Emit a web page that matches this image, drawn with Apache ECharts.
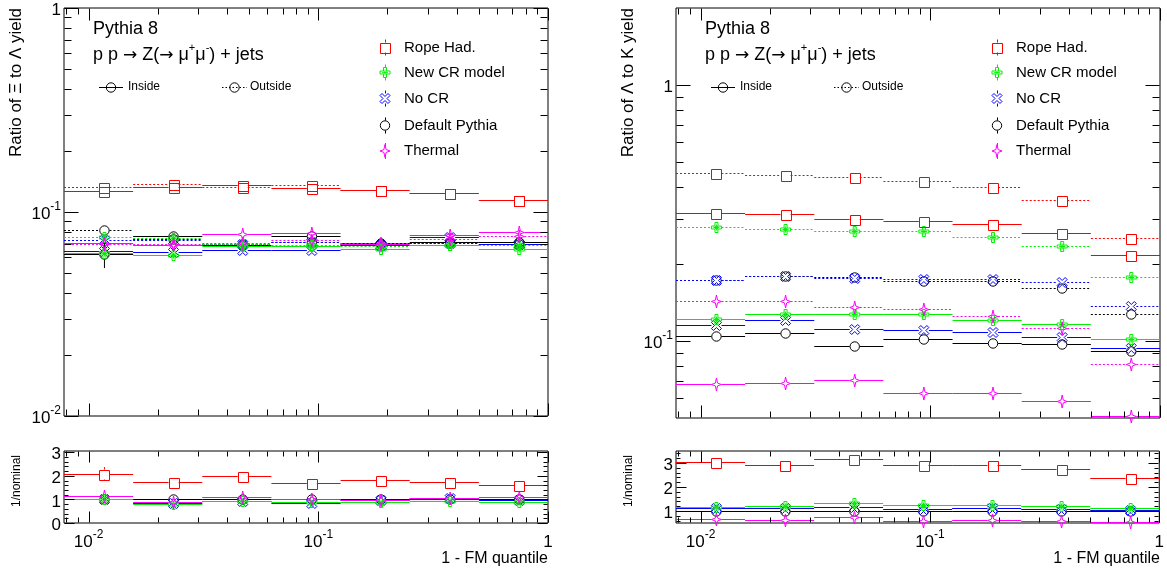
<!DOCTYPE html>
<html><head><meta charset="utf-8">
<script src="https://cdn.jsdelivr.net/npm/echarts@6/dist/echarts.min.js"></script>
<style>html,body{margin:0;padding:0;background:#fff}#c{width:1167px;height:569px}</style>
</head><body><div id="c"></div>
<script>
// ---------- data ----------
const binEdges   = [0.0078125, 0.015625, 0.03125, 0.0625, 0.125, 0.25, 0.5, 1];
const binCenters = [0.01171875, 0.0234375, 0.046875, 0.09375, 0.1875, 0.375, 0.75];

// Xi / Lambda (left panel)
const xiRopeIn       = [0.127, 0.133, 0.135, 0.131, 0.128, 0.124, 0.115];
const xiRopeOut      = [0.132, 0.137, 0.133, 0.136, 0.128, 0.124, 0.115];
const xiNewCRIn      = [0.0630, 0.0615, 0.0680, 0.0684, 0.0660, 0.0690, 0.0660];
const xiNewCROut     = [0.0750, 0.0745, 0.0700, 0.0690, 0.0680, 0.0690, 0.0690];
const xiNoCRIn       = [0.0646, 0.0640, 0.0648, 0.0648, 0.0690, 0.0752, 0.0700];
const xiNoCROut      = [0.0730, 0.0730, 0.0700, 0.0711, 0.0690, 0.0706, 0.0698];
const xiDefaultIn    = [0.0621, 0.0762, 0.0690, 0.0762, 0.0705, 0.0715, 0.0711];
const xiDefaultInErr = [0.0090, 0.0010, 0.0010, 0.0010, 0.0010, 0.0010, 0.0010];
const xiDefaultOut   = [0.0815, 0.0735, 0.0698, 0.0714, 0.0700, 0.0706, 0.0700];
const xiThermalIn    = [0.0706, 0.0690, 0.0782, 0.0790, 0.0700, 0.0775, 0.0797];
const xiThermalOut   = [0.0695, 0.0700, 0.0705, 0.0730, 0.0705, 0.0740, 0.0760];

const xiRatioRope     = [2.09, 1.73, 1.97, 1.70, 1.83, 1.75, 1.63];
const xiRatioRopeErr  = [0.28, 0.10, 0.12, 0.10, 0.10, 0.10, 0.10];
const xiRatioNewCR    = [1.00, 0.80, 0.94, 0.87, 0.90, 0.94, 0.90];
const xiRatioNoCR     = [1.02, 0.84, 0.94, 0.84, 0.97, 1.05, 0.98];
const xiRatioDefault  = [1.00, 1.00, 1.00, 1.00, 1.00, 1.00, 1.00];
const xiRatioThermal  = [1.13, 0.90, 1.12, 1.03, 0.99, 1.08, 1.10];

// Lambda / K (right panel)
const lamRopeIn      = [0.315, 0.313, 0.299, 0.295, 0.286, 0.264, 0.217];
const lamRopeOut     = [0.454, 0.444, 0.436, 0.423, 0.398, 0.356, 0.253];
const lamNewCRIn     = [0.122, 0.128, 0.128, 0.128, 0.121, 0.116, 0.102];
const lamNewCROut    = [0.278, 0.275, 0.269, 0.269, 0.255, 0.236, 0.177];
const lamNoCRIn      = [0.115, 0.121, 0.111, 0.110, 0.108, 0.104, 0.094];
const lamNoCROut     = [0.173, 0.180, 0.176, 0.175, 0.175, 0.170, 0.137];
const lamDefaultIn   = [0.1045, 0.107, 0.0955, 0.102, 0.0985, 0.0973, 0.0914];
const lamDefaultOut  = [0.173, 0.179, 0.177, 0.172, 0.171, 0.161, 0.128];
const lamThermalIn   = [0.0681, 0.0683, 0.0703, 0.0628, 0.0628, 0.0582, 0.0509];
const lamThermalOut  = [0.143, 0.143, 0.136, 0.133, 0.125, 0.112, 0.081];

const lamRatioRope    = [3.03, 2.93, 3.15, 2.92, 2.92, 2.74, 2.39];
const lamRatioNewCR   = [1.18, 1.21, 1.35, 1.25, 1.24, 1.21, 1.11];
const lamRatioNoCR    = [1.11, 1.14, 1.15, 1.08, 1.11, 1.08, 1.03];
const lamRatioDefault = [1.00, 1.00, 1.00, 1.00, 1.00, 1.00, 1.00];
const lamRatioThermal = [0.65, 0.62, 0.74, 0.60, 0.62, 0.58, 0.54];

// tick values
const xMajorTicks = [0.01, 0.1, 1];
const xMinorTicks = [0.008, 0.009, 0.02, 0.03, 0.04, 0.05, 0.06, 0.07, 0.08, 0.09, 0.2, 0.3, 0.4, 0.5, 0.6, 0.7, 0.8, 0.9];
const yMajorXi = [0.01, 0.1, 1];
const yMinorXi = [0.02, 0.03, 0.04, 0.05, 0.06, 0.07, 0.08, 0.09, 0.2, 0.3, 0.4, 0.5, 0.6, 0.7, 0.8, 0.9];
const yMajorLam = [0.1, 1];
const yMinorLam = [0.06, 0.07, 0.08, 0.09, 0.2, 0.3, 0.4, 0.5, 0.6, 0.7, 0.8, 0.9];
const yMajorRatioXi = [0, 1, 2, 3];
const yMinorRatioXi = [0.2, 0.4, 0.6, 0.8, 1.2, 1.4, 1.6, 1.8, 2.2, 2.4, 2.6, 2.8];
const yMajorRatioLam = [1, 2, 3];
const yMinorRatioLam = [0.6, 0.8, 1.2, 1.4, 1.6, 1.8, 2.2, 2.4, 2.6, 2.8, 3.2, 3.4];

const legendNames = ['Rope Had.', 'New CR model', 'No CR', 'Default Pythia', 'Thermal'];

// ---------- style ----------
const FONT = "'Liberation Sans', Arial, Helvetica, sans-serif";
const C = { rope: '#ff0000', newcr: '#00f000', nocr: '#0000ff', def: '#000000', thermal: '#ff00ff' };
const legendColors = [C.rope, C.newcr, C.nocr, C.def, C.thermal];
const legendMarkers = ['square', 'crossStar', 'crossX', 'circle', 'star4'];

// marker outlines in a 10x10 unit box
const SHAPES = {
  crossStar: { poly: [[3.5,0],[6.5,0],[6.5,3.5],[10,3.5],[10,6.5],[6.5,6.5],[6.5,10],[3.5,10],[3.5,6.5],[0,6.5],[0,3.5],[3.5,3.5]],
               lines: [[3.5,3.5,6.5,6.5],[6.5,3.5,3.5,6.5],[5,2,5,8],[2,5,8,5]] },
  crossX: { poly: [[2,0],[5,3],[8,0],[10,2],[7,5],[10,8],[8,10],[5,7],[2,10],[0,8],[3,5],[0,2]], lines: [] },
  star4: { poly: [[5,0],[6.1,3.9],[10,5],[6.1,6.1],[5,10],[3.9,6.1],[0,5],[3.9,3.9]], lines: [] }
};
function markerGeom(kind, cx, cy) {
  const w = 10, h = kind === 'star4' ? 13 : 10;
  const sh = SHAPES[kind];
  const tp = (px, py) => [cx - w / 2 + px * w / 10, cy - h / 2 + py * h / 10];
  return { poly: sh.poly.map(p => tp(p[0], p[1])), lines: sh.lines.map(l => tp(l[0], l[1]).concat(tp(l[2], l[3]))) };
}
function fmt(n) { return (Math.round(n * 100) / 100).toString(); }
function markerPathData(kind, cx, cy) {
  const g = markerGeom(kind, cx, cy);
  let d = 'M' + g.poly.map(p => fmt(p[0]) + ' ' + fmt(p[1])).join(' L') + ' Z';
  g.lines.forEach(l => { d += ' M' + fmt(l[0]) + ' ' + fmt(l[1]) + ' L' + fmt(l[2]) + ' ' + fmt(l[3]); });
  return d;
}
function markerSingle(kind, cx, cy, color) {
  const st = { fill: 'none', stroke: color, lineWidth: 1 };
  if (kind === 'circle') return { type: 'circle', shape: { cx: cx, cy: cy, r: 4.7 }, style: st };
  if (kind === 'square') return { type: 'rect', shape: { x: Math.round(cx - 5) + 0.5, y: Math.round(cy - 5) + 0.5, width: 10, height: 10 }, style: st };
  return { type: 'path', shape: { pathData: markerPathData(kind, cx, cy) }, style: st };
}
function markerGraphic(kind, cx, cy, color) {
  const st = () => ({ fill: 'none', stroke: color, lineWidth: 1 });
  if (kind === 'circle') return [{ type: 'circle', shape: { cx: cx, cy: cy, r: 4.7 }, style: st() }];
  if (kind === 'square') return [{ type: 'rect', shape: { x: Math.round(cx - 5) + 0.5, y: Math.round(cy - 5) + 0.5, width: 10, height: 10 }, style: st() }];
  const g = markerGeom(kind, cx, cy);
  const out = [{ type: 'polygon', shape: { points: g.poly }, style: st() }];
  g.lines.forEach(l => out.push({ type: 'line', shape: { x1: l[0], y1: l[1], x2: l[2], y2: l[3] }, style: { stroke: color, lineWidth: 0.8 } }));
  return out;
}

const xRange = [binEdges[0], binEdges[binEdges.length - 1]];
const grids = [
  { left: 64, top: 8, width: 484, height: 408 },
  { left: 64, top: 451, width: 484, height: 72 },
  { left: 676, top: 8, width: 484, height: 410 },
  { left: 676, top: 451, width: 484, height: 72 }
];
const yRanges = [[0.01, 1], [0, 3.05], [0.05, 2], [0.5, 3.5]];
const yIsLog = [true, false, true, false];

const rich = {
  b: { fontSize: 17, fontFamily: FONT, color: '#000', lineHeight: 22, verticalAlign: 'bottom' },
  s: { fontSize: 12, fontFamily: FONT, color: '#000', lineHeight: 12, verticalAlign: 'top' }
};
function logFmt(v) {
  const l = Math.log10(v), e = Math.round(l);
  if (Math.abs(l - e) > 1e-6) return '';
  return e === 0 ? '{b|1}' : '{b|10}{s|' + (e < 0 ? '-' : '') + Math.abs(e) + '}';
}
function intFmt(v) {
  const r = Math.round(v);
  return Math.abs(v - r) < 1e-6 ? '{b|' + r + '}' : '';
}

const xAxes = grids.map((g, i) => ({
  type: 'log', logBase: 10, gridIndex: i, min: xRange[0], max: xRange[1],
  axisLine: { show: false }, axisTick: { show: false }, splitLine: { show: false }, minorTick: { show: false },
  axisLabel: { show: i % 2 === 1, formatter: logFmt, rich: rich, margin: 6, showMinLabel: true, showMaxLabel: true, hideOverlap: false }
}));
const yAxes = grids.map((g, i) => ({
  type: yIsLog[i] ? 'log' : 'value', logBase: 10, gridIndex: i, min: yRanges[i][0], max: yRanges[i][1],
  axisLine: { show: false }, axisTick: { show: false }, splitLine: { show: false },
  axisLabel: { formatter: yIsLog[i] ? logFmt : intFmt, rich: rich, margin: 3, align: 'right', showMinLabel: true, showMaxLabel: true, hideOverlap: false }
}));

function tickSeries(gi, yr, xMaj, xMin, yMaj, yMin, L) {
  return {
    type: 'custom', xAxisIndex: gi, yAxisIndex: gi, silent: true, z: 5, animation: false,
    data: [[xRange[0], yr[0]]],
    renderItem: function (params, api) {
      const pA = api.coord([xRange[0], yr[0]]), pB = api.coord([xRange[1], yr[1]]);
      const xl = Math.round(pA[0]) + 0.5, xr = Math.round(pB[0]) - 0.5, yb = Math.round(pA[1]) - 0.5, yt = Math.round(pB[1]) + 0.5;
      let d = '';
      const seg = (x1, y1, x2, y2) => { d += 'M' + x1 + ' ' + y1 + ' L' + x2 + ' ' + y2 + ' '; };
      const xt = (vals, len) => vals.forEach(v => { const x = Math.round(api.coord([v, yr[0]])[0]) + 0.5; seg(x, yb, x, yb - len); seg(x, yt, x, yt + len); });
      const ytk = (vals, len) => vals.forEach(v => { const y = Math.round(api.coord([xRange[0], v])[1]) + 0.5; seg(xl, y, xl + len, y); seg(xr, y, xr - len, y); });
      xt(xMaj, L[0]); xt(xMin, L[1]); ytk(yMaj, L[2]); ytk(yMin, L[3]);
      return { type: 'path', shape: { pathData: d }, style: { fill: 'none', stroke: '#000000', lineWidth: 1 } };
    }
  };
}

let sid = 0;
function histItems(vals, errs) { return vals.map((v, i) => [binEdges[i], binEdges[i + 1], binCenters[i], v, errs ? errs[i] : 0]); }
function barSeries(gi, vals, errs, color, dashed) {
  const gap = 5;
  return {
    id: 'bar' + (sid++), type: 'custom', xAxisIndex: gi, yAxisIndex: gi, silent: true, z: 3, animation: false,
    data: histItems(vals, errs), encode: { x: [0, 1, 2], y: 3 },
    renderItem: function (params, api) {
      const xc = api.value(2), y = api.value(3), e = api.value(4);
      const pc = api.coord([xc, y]);
      const xL = api.coord([api.value(0), y])[0], xR = api.coord([api.value(1), y])[0];
      const cy = Math.round(pc[1]) + 0.5, cx = pc[0];
      let d = 'M' + fmt(xL) + ' ' + cy + ' L' + fmt(cx - gap) + ' ' + cy + ' M' + fmt(cx + gap) + ' ' + cy + ' L' + fmt(xR) + ' ' + cy;
      if (e > 0) {
        const yt = api.coord([xc, y + e])[1], yb = api.coord([xc, y - e])[1];
        if (cy - yt > gap) d += ' M' + fmt(cx) + ' ' + fmt(yt) + ' L' + fmt(cx) + ' ' + fmt(cy - gap);
        if (yb - cy > gap) d += ' M' + fmt(cx) + ' ' + fmt(cy + gap) + ' L' + fmt(cx) + ' ' + fmt(yb);
      }
      const style = { fill: 'none', stroke: color, lineWidth: 1 };
      if (dashed) style.lineDash = [2, 2];
      return { type: 'path', shape: { pathData: d }, style: style };
    }
  };
}
function markerSeries(gi, vals, color, marker) {
  return {
    id: 'mk' + (sid++), type: 'custom', xAxisIndex: gi, yAxisIndex: gi, silent: true, z: 4, animation: false,
    data: histItems(vals, null), encode: { x: [0, 1, 2], y: 3 },
    renderItem: function (params, api) {
      const pc = api.coord([api.value(2), api.value(3)]);
      return markerSingle(marker, pc[0], Math.round(pc[1]) + 0.5, color);
    }
  };
}
function hist(gi, vals, errs, color, dashed, marker) {
  return [barSeries(gi, vals, errs, color, dashed), markerSeries(gi, vals, color, marker)];
}

const series = [].concat(
  tickSeries(0, yRanges[0], xMajorTicks, xMinorTicks, yMajorXi, yMinorXi, [12, 6, 14, 7]),
  tickSeries(1, yRanges[1], xMajorTicks, xMinorTicks, yMajorRatioXi, yMinorRatioXi, [11, 5, 10, 4]),
  tickSeries(2, yRanges[2], xMajorTicks, xMinorTicks, yMajorLam, yMinorLam, [12, 6, 14, 7]),
  tickSeries(3, yRanges[3], xMajorTicks, xMinorTicks, yMajorRatioLam, yMinorRatioLam, [11, 5, 10, 4]),
  // left main
  hist(0, xiDefaultOut, null, C.def, true, 'circle'),
  hist(0, xiDefaultIn, xiDefaultInErr, C.def, false, 'circle'),
  hist(0, xiNoCROut, null, C.nocr, true, 'crossX'),
  hist(0, xiNoCRIn, null, C.nocr, false, 'crossX'),
  hist(0, xiNewCROut, null, C.newcr, true, 'crossStar'),
  hist(0, xiNewCRIn, null, C.newcr, false, 'crossStar'),
  hist(0, xiThermalOut, null, C.thermal, true, 'star4'),
  hist(0, xiThermalIn, null, C.thermal, false, 'star4'),
  hist(0, xiRopeOut, null, C.rope, true, 'square'),
  hist(0, xiRopeIn, null, C.rope, false, 'square'),
  // left ratio
  hist(1, xiRatioDefault, null, C.def, false, 'circle'),
  hist(1, xiRatioNoCR, null, C.nocr, false, 'crossX'),
  hist(1, xiRatioNewCR, null, C.newcr, false, 'crossStar'),
  hist(1, xiRatioThermal, null, C.thermal, false, 'star4'),
  hist(1, xiRatioRope, xiRatioRopeErr, C.rope, false, 'square'),
  // right main
  hist(2, lamDefaultOut, null, C.def, true, 'circle'),
  hist(2, lamDefaultIn, null, C.def, false, 'circle'),
  hist(2, lamNoCROut, null, C.nocr, true, 'crossX'),
  hist(2, lamNoCRIn, null, C.nocr, false, 'crossX'),
  hist(2, lamNewCROut, null, C.newcr, true, 'crossStar'),
  hist(2, lamNewCRIn, null, C.newcr, false, 'crossStar'),
  hist(2, lamThermalOut, null, C.thermal, true, 'star4'),
  hist(2, lamThermalIn, null, C.thermal, false, 'star4'),
  hist(2, lamRopeOut, null, C.rope, true, 'square'),
  hist(2, lamRopeIn, null, C.rope, false, 'square'),
  // right ratio
  hist(3, lamRatioDefault, null, C.def, false, 'circle'),
  hist(3, lamRatioNoCR, null, C.nocr, false, 'crossX'),
  hist(3, lamRatioNewCR, null, C.newcr, false, 'crossStar'),
  hist(3, lamRatioThermal, null, C.thermal, false, 'star4'),
  hist(3, lamRatioRope, null, C.rope, false, 'square')
);

// ---------- text & legends ----------
let gid = 0;
const graphics = [];
function add(el) { el.id = 'g' + (gid++); el.silent = true; graphics.push(el); }
function txt(x, y, text, size) {
  add({ type: 'text', x: x, y: y, style: { text: text, fontSize: size, fontFamily: FONT, fill: '#000', align: 'left', verticalAlign: 'middle' } });
}
function vtxt(x, y, text, size) {
  add({ type: 'text', x: x, y: y, rotation: Math.PI / 2, style: { text: text, fontSize: size, fontFamily: FONT, fill: '#000', align: 'right', verticalAlign: 'middle' } });
}
function panelText(dx, yTitle) {
  txt(93 + dx, 29, 'Pythia 8', 18);
  add({ type: 'text', x: 93 + dx, y: 53, style: {
    text: '{t|p p }{a|→}{t| Z(}{a|→}{t| μ}{s|+}{t|μ}{s|-}{t|) + jets}', align: 'left', verticalAlign: 'middle',
    rich: { t: { fontSize: 18, fontFamily: FONT, fill: '#000', lineHeight: 22, verticalAlign: 'bottom' },
            a: { fontSize: 17, fontFamily: "'DejaVu Sans'", fill: '#000', lineHeight: 22, verticalAlign: 'bottom' },
            s: { fontSize: 11, fontFamily: FONT, fill: '#000', lineHeight: 11, verticalAlign: 'top' } } } });
  add({ type: 'line', shape: { x1: 99 + dx, y1: 87.5, x2: 123 + dx, y2: 87.5 }, style: { stroke: '#000000', lineWidth: 1 } });
  add({ type: 'circle', shape: { cx: 111 + dx, cy: 87.5, r: 4.7 }, style: { fill: 'none', stroke: '#000000', lineWidth: 1 } });
  txt(128 + dx, 87, 'Inside', 12);
  add({ type: 'line', shape: { x1: 222 + dx, y1: 87.5, x2: 247 + dx, y2: 87.5 }, style: { stroke: '#000000', lineWidth: 1, lineDash: [1.5, 2] } });
  add({ type: 'circle', shape: { cx: 234.5 + dx, cy: 87.5, r: 4.7 }, style: { fill: 'none', stroke: '#000000', lineWidth: 1 } });
  txt(250 + dx, 87, 'Outside', 12);
  const rows = [47.5, 72.5, 98.5, 125.5, 151];
  legendNames.forEach((n, i) => {
    const cx = 385 + dx, cy = rows[i];
    markerGraphic(legendMarkers[i], cx, cy, legendColors[i]).forEach(add);
    add({ type: 'line', shape: { x1: cx + 0.5, y1: cy - 5, x2: cx + 0.5, y2: cy - 8 }, style: { stroke: legendColors[i], lineWidth: 1 } });
    add({ type: 'line', shape: { x1: cx + 0.5, y1: cy + 5, x2: cx + 0.5, y2: cy + 8 }, style: { stroke: legendColors[i], lineWidth: 1 } });
    txt(404 + dx, cy, n, 15);
  });
  vtxt(16 + dx, 8, yTitle, 17);
  vtxt(17 + dx, 455, '1/nominal', 12);
  add({ type: 'text', x: 548 + dx, y: 559, style: { text: '1 - FM quantile', fontSize: 16, fontFamily: FONT, fill: '#000', align: 'right', verticalAlign: 'middle' } });
}
panelText(0, 'Ratio of Ξ to Λ yield');
panelText(612, 'Ratio of Λ to K yield');

const chart = echarts.init(document.getElementById('c'), null, { renderer: 'canvas' });
chart.setOption({
  animation: false,
  backgroundColor: '#ffffff',
  textStyle: { fontFamily: FONT },
  grid: grids.map(g => Object.assign({ show: true, borderColor: '#000', borderWidth: 1, backgroundColor: 'transparent', containLabel: false }, g)),
  xAxis: xAxes,
  yAxis: yAxes,
  series: series,
  graphic: { elements: graphics }
});
</script></body></html>
